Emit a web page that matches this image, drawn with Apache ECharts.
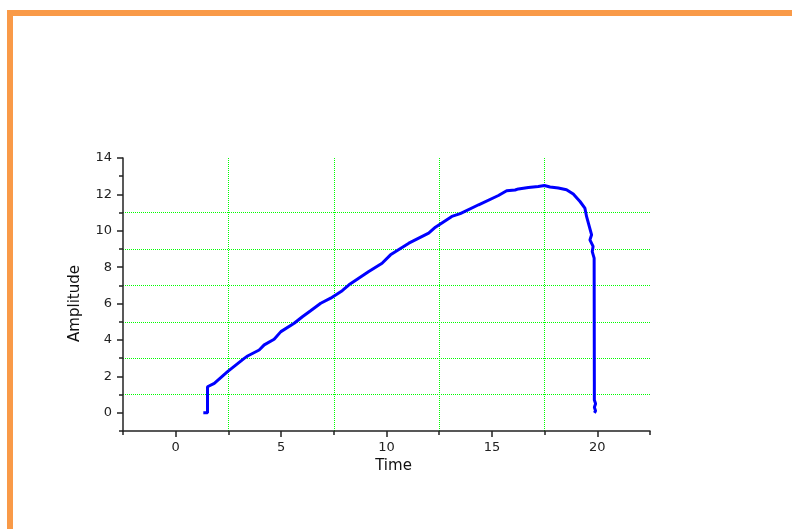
<!DOCTYPE html>
<html>
<head>
<meta charset="utf-8">
<script src="https://cdn.jsdelivr.net/npm/echarts@6/dist/echarts.min.js"></script>
<style>
  html, body { margin: 0; padding: 0; background: #fff; }
  #chart { width: 792px; height: 529px; }
</style>
</head>
<body>
<div id="chart"></div>
<script>
// Measured signal: time (x) and amplitude (y)
const time = [1.31, 1.51, 1.51, 1.83, 2.46, 3.25, 3.41, 3.96, 4.2, 4.67, 4.99, 5.62, 6.01, 6.4, 6.88, 7.35, 7.9,
  8.22, 9.16, 9.79, 10.19, 11.06, 12.0, 12.32, 13.1, 13.5, 14.37, 15.31, 15.7, 16.1, 16.26, 16.73, 17.2, 17.49,
  17.76, 18.15, 18.54, 18.86, 19.18, 19.41, 19.49, 19.6, 19.73, 19.65, 19.8, 19.76, 19.85, 19.86, 19.95, 19.86,
  19.86, 19.92, 19.86, 19.92, 19.86, 19.92, 19.86];
const amplitude = [0, 0, 1.43, 1.62, 2.26, 2.99, 3.12, 3.45, 3.73, 4.04, 4.46, 4.92, 5.28, 5.61, 6.02, 6.3, 6.71,
  7.03, 7.76, 8.22, 8.68, 9.32, 9.87, 10.2, 10.79, 10.94, 11.43, 11.94, 12.2, 12.24, 12.3, 12.38, 12.44, 12.49,
  12.41, 12.35, 12.26, 12.02, 11.61, 11.25, 10.79, 10.33, 9.78, 9.5, 9.14, 8.86, 8.5, 1.7, 1.7, 1.7,
  1.0, 0.9, 0.7, 0.5, 0.3, 0.1, 0];

// Tick positions (major ticks are labelled, minor ticks carry the grid)
const xMajorTicks = [0, 5, 10, 15, 20];
const xMinorTicks = [-2.5, 2.5, 7.5, 12.5, 17.5, 22.5];
const yMajorTicks = [0, 2, 4, 6, 8, 10, 12, 14];
const yMinorTicks = [-1, 1, 3, 5, 7, 9, 11, 13];

const FONT = 'DejaVu Sans';
const AXIS_COLOR = '#222';
const GRID_COLOR = '#00ff00';
const tickStyle = () => ({ color: AXIS_COLOR, width: 1.5 });

const chart = echarts.init(document.getElementById('chart'), null, { renderer: 'canvas' });

const points = time.map((t, i) => [t, amplitude[i]]);

chart.setOption({
  animation: false,
  backgroundColor: '#fff',
  graphic: [
    { type: 'rect', shape: { x: 7, y: 10, width: 785, height: 6 }, style: { fill: '#f99a48' }, silent: true },
    { type: 'rect', shape: { x: 7, y: 10, width: 6, height: 519 }, style: { fill: '#f99a48' }, silent: true }
  ],
  grid: { left: 123, right: 142, top: 158, bottom: 98 },
  xAxis: [
    {
      type: 'value', min: -2.5, max: 22.5, interval: 2.5, position: 'bottom',
      axisLine: { show: true, onZero: false, lineStyle: tickStyle() },
      axisTick: { show: true, customValues: xMajorTicks, length: 6, lineStyle: tickStyle() },
      axisLabel: { customValues: xMajorTicks, fontFamily: FONT, fontSize: 13, color: AXIS_COLOR, margin: 10 },
      splitLine: { show: false },
      name: 'Time', nameLocation: 'middle', nameGap: 25,
      nameTextStyle: { fontFamily: FONT, fontSize: 15, color: '#111', padding: [0, 0, 0, 14] }
    },
    {
      type: 'value', min: -2.5, max: 22.5, interval: 2.5, position: 'bottom',
      axisLine: { show: false, onZero: false },
      axisTick: { show: true, customValues: xMinorTicks, length: 4, lineStyle: tickStyle() },
      axisLabel: { show: false },
      splitLine: {
        show: true, showMinLine: false, showMaxLine: false,
        lineStyle: { color: GRID_COLOR, width: 1, type: 'dotted' }
      }
    }
  ],
  yAxis: [
    {
      type: 'value', min: -1, max: 14, interval: 1, position: 'left',
      axisLine: { show: true, onZero: false, lineStyle: tickStyle() },
      axisTick: { show: true, customValues: yMajorTicks, length: 6, lineStyle: tickStyle() },
      axisLabel: { customValues: yMajorTicks, fontFamily: FONT, fontSize: 13, color: AXIS_COLOR, margin: 11 },
      splitLine: { show: false },
      name: 'Amplitude', nameLocation: 'middle', nameGap: 40, nameRotate: 90,
      nameTextStyle: { fontFamily: FONT, fontSize: 15, color: '#111', padding: [0, 18, 0, 0] }
    },
    {
      type: 'value', min: -1, max: 14, interval: 1, position: 'left',
      axisLine: { show: false, onZero: false },
      axisTick: { show: true, customValues: yMinorTicks, length: 4, lineStyle: tickStyle() },
      axisLabel: { show: false },
      splitLine: {
        show: true, showMinLine: false, showMaxLine: false,
        lineStyle: { color: GRID_COLOR, width: 1, type: 'dotted' }
      }
    }
  ],
  series: [
    {
      type: 'line',
      xAxisIndex: 0, yAxisIndex: 0,
      data: points,
      showSymbol: false,
      lineStyle: { color: '#0000ff', width: 3 },
      z: 5
    }
  ]
});
</script>
</body>
</html>
